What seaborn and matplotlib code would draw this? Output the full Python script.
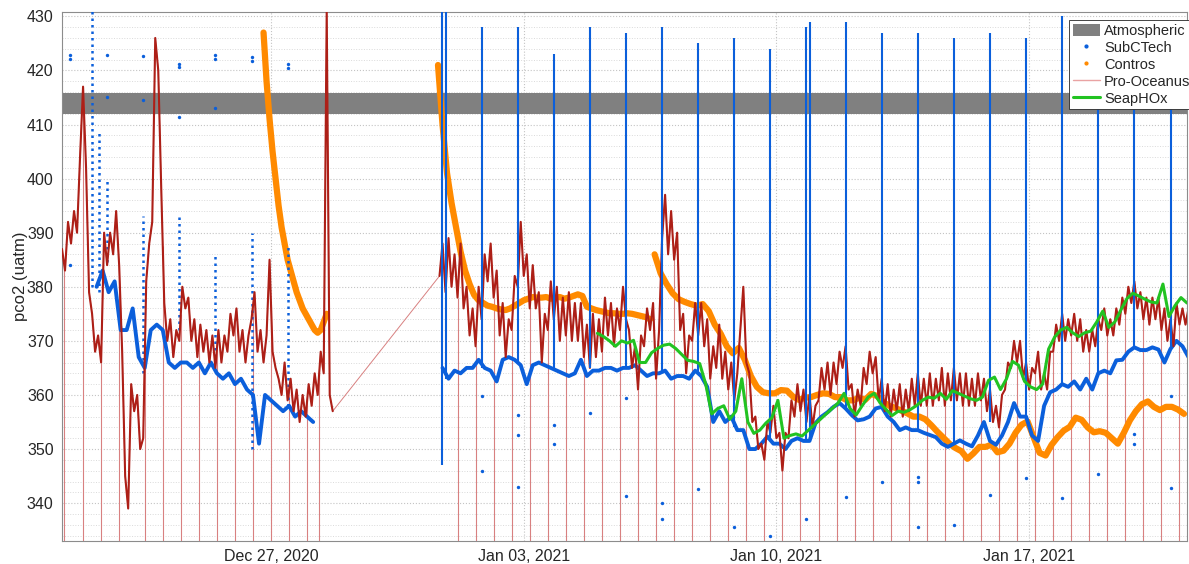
import numpy as np
import pandas as pd
import matplotlib
matplotlib.use("Agg")
import matplotlib.pyplot as plt
from matplotlib.ticker import MultipleLocator
from matplotlib.lines import Line2D
from matplotlib.patches import Patch
import seaborn as sns

# ---------------- data (time in hours after 2020-12-21 00:00) ----------------
base = pd.Timestamp("2020-12-21 00:00")

atm_band = [411.9, 415.9]

# Pro-Oceanus, 2 h readings before and after the data gap
pro_a_start, pro_a_step = 5, 2
pro_a = [387, 383, 392, 388, 394, 390, 404, 417, 402, 379,
         375, 368, 371, 366, 390, 384, 390, 386, 394, 384,
         368, 345, 339, 362, 357, 360, 350, 352, 381, 388,
         392, 426, 420, 398, 377, 370, 374, 367, 372, 370,
         380, 376, 378, 370, 374, 367, 373, 368, 372, 366,
         371, 365, 372, 366, 371, 368, 375, 371, 376, 368,
         372, 366, 371, 374, 379, 368, 372, 366, 371, 385,
         368, 365, 363, 360, 366, 359, 363, 357, 361, 355,
         360, 356, 362, 358, 364, 360, 368, 364, 431, 360,
         357]
pro_b_start, pro_b_step = 256, 2
pro_b = [382, 388, 379, 389, 380, 386, 378, 388, 376, 380, 371, 376,
         369, 380, 374, 386, 381, 388, 378, 383, 371, 377, 367, 374,
         372, 382, 380, 392, 382, 386, 376, 384, 376, 379, 366, 375,
         372, 381, 374, 380, 370, 378, 371, 379, 370, 377, 370, 377,
         367, 373, 365, 375, 367, 374, 368, 378, 371, 377, 369, 376,
         372, 380, 374, 372, 365, 369, 361, 371, 369, 376, 372, 377,
         363, 372, 389, 397, 386, 394, 385, 390, 372, 375, 364, 371,
         370, 377, 371, 377, 369, 374, 363, 369, 365, 373, 363, 368,
         361, 366, 359, 364, 372, 380, 366, 364, 355, 356, 350, 351,
         348, 355, 353, 358, 352, 353, 346, 353, 352, 359, 356, 362,
         357, 361, 355, 360, 354, 358, 359, 365, 361, 366, 360, 366,
         362, 368, 365, 369, 361, 362, 356, 361, 358, 365, 362, 368,
         364, 367, 359, 363, 357, 362, 356, 361, 357, 362, 356, 361,
         357, 363, 358, 364, 358, 363, 358, 364, 358, 363, 359, 365,
         358, 364, 359, 365, 359, 364, 358, 364, 358, 363, 358, 364,
         359, 363, 357, 361, 355, 358, 354, 360, 361, 366, 365, 370,
         366, 370, 363, 366, 361, 365, 364, 368, 361, 364, 361, 368,
         368, 373, 370, 375, 370, 374, 371, 375, 370, 374, 368, 372,
         368, 372, 369, 374, 372, 376, 371, 374, 371, 376, 373, 378,
         375, 380, 377, 381, 376, 379, 374, 378, 373, 378, 374, 378,
         372, 376, 370, 374, 369, 377, 373, 376, 373, 376]
# times where the Pro-Oceanus record drops out (zero readings)
pro_drops = [6.5, 19, 31, 43, 60, 72, 84, 96, 108, 120, 132, 144, 156, 168, 176,
             268, 280, 292, 304, 316, 328, 340, 352, 364, 376, 388, 400, 412,
             424, 436, 448, 460, 472, 484, 496, 508, 520, 532, 544, 556, 568,
             580, 592, 604, 616, 628, 640, 652, 664, 676, 688, 700, 712, 724,
             736, 748]

# SubCTech
sub_a_start, sub_a_step = 28, 4
sub_a = [380, 383, 379, 381, 372, 372, 376, 367, 365, 372,
         373, 372, 366, 365, 366, 366, 365, 366, 364, 366,
         364, 363, 364, 362, 363, 361, 360, 351, 360, 359,
         358, 357, 358, 356, 357, 356, 355]
sub_b_start, sub_b_step = 258, 4
sub_b = [365, 363, 364.5, 364, 365, 365, 366.5, 365, 364.5, 362.5,
         366.5, 367, 366.5, 365.5, 362, 365.5, 366, 365.5, 365, 364.5,
         364, 363.5, 364, 366.5, 363.5, 364.5, 364.5, 365, 365, 364.5,
         365, 365, 365.5, 364.5, 363.5, 364, 364, 364.5, 363, 363.5,
         363.5, 363, 364.5, 363.5, 361.5, 355, 357, 355, 356, 353.5,
         353.5, 350, 350, 351, 352.3, 351, 351, 350, 351.5, 352,
         351.5, 351.5, 354.8, 356, 356.8, 357.8, 358.5, 357.5, 356.3, 355.3,
         355.5, 356, 357.5, 357.8, 356, 355, 353.5, 354, 353.5, 353.5,
         353, 352.6, 352.2, 351, 350.4, 351, 351.6, 351, 350.5, 352.5,
         355, 351.5, 350.8, 352.5, 355, 358.5, 356, 356, 352.5, 351.5,
         358, 360.5, 361, 362, 361.5, 362.5, 361, 363, 361, 364,
         364.5, 364, 366.4, 366.5, 368, 368.8, 368.3, 368.3, 368.8, 368.4,
         366, 368.5, 370, 369, 367]
# daily calibration spikes after the gap
sub_spike_h = [257.7, 260.4, 284, 308, 332, 356, 380, 404, 428, 452, 476, 500,
               502.5, 526, 550, 574, 598, 622, 646, 670, 694, 718, 742.5]
sub_spike_lo = [347, 363, 365, 366, 365, 365, 365, 364, 364, 354, 352, 351.5,
                352, 357.5, 357.5, 353.5, 351, 355, 356, 362, 364, 368.5, 368.5]
sub_spike_hi = [431, 431, 428, 428, 423, 428, 427, 428, 425, 426, 424, 428,
                429, 429, 427, 427, 426, 427, 426, 430, 420, 418, 425]
# sparse calibration columns before the gap
sub_col_h = [25, 29.7, 35, 59, 83, 107, 131, 155]
sub_col_lo = [380, 379, 384.5, 364, 372, 366, 350, 358]
sub_col_hi = [431, 409, 400, 393, 393.6, 386, 390, 388]
# isolated readings
sub_dot_h = [10.4, 10.4, 10.4, 35, 35, 59, 59, 83, 83, 83, 107, 107, 107, 131, 131,
             155, 155, 284, 284, 308, 308, 308, 332, 332, 356, 380, 380, 404, 404,
             428, 452, 476, 500, 526, 550, 574, 574, 574, 598, 622, 646, 670, 694,
             718, 718, 742.5, 742.5]
sub_dot_v = [422.8, 422.2, 384, 422.8, 415, 422.6, 414.5, 421.2, 420.6, 411.3,
             422.8, 422.2, 413, 422.5, 421.8, 421.2, 420.5, 359.8, 346, 356.3,
             352.6, 343, 354.4, 351, 356.6, 359.4, 341.3, 340, 337, 342.6, 335.6,
             334, 337, 341.2, 343.9, 344.9, 343.9, 335.6, 336, 341.5, 344.6, 341,
             345.4, 352.8, 350.9, 342.8, 359.8]

# Contros
con_a_start, con_a_step = 139, 2
con_a = [427, 418, 411, 405, 400, 395, 391, 388, 385, 383, 381, 379, 377.5,
         376, 375, 374, 373, 372, 371.5, 372, 373.5, 375]
con_b_start, con_b_step = 255, 3
con_b = [421, 410, 401, 395.5, 391, 386.5, 383, 380.5, 378.5, 377.5,
         377, 376.5, 376.3, 376, 375.8, 375.7, 376, 376.5, 377, 377.5,
         377.8, 378.1, 378, 378, 378.1, 377.8, 378, 378.1, 377.8, 378,
         378.3, 378.6, 378.3, 376.3, 376, 375.7, 375.5, 375.3, 375.1, 375.1,
         375, 375, 375.1, 375, 374.8, 374.6, 374.4, 374]
con_c_start, con_c_step = 399, 4
con_c = [386, 382.5, 380.5, 378.8, 377.7, 377.2, 376.8, 376.5, 376.8, 375.5,
         373, 371.3, 369, 367.7, 368.7, 366.5, 363.5, 361.5, 360.5, 360.3,
         360.3, 360.9, 360.8, 359.7, 359.1, 359.5, 359.6, 360, 360.3, 360.2,
         359.6, 359.6, 359, 359, 359.5, 359.1, 360.2, 359.8, 358.7, 358,
         357.6, 357.1, 356.6, 356, 356, 355.5, 354.4, 353.2, 352.1, 351,
         350.2, 349.6, 348.2, 349.2, 350.4, 350.4, 350.8, 349.4, 349.7, 351,
         353, 354.5, 355.1, 352.2, 349.3, 348.8, 350.8, 352.2, 353.4, 354.1,
         355.8, 355.4, 354, 353.1, 353.3, 353, 352, 351, 353, 355.3,
         357, 358.3, 358.8, 357.8, 357.2, 357.8, 357.8, 357.3, 356.5]

# SeapHOx (two runs joined across a short outage)
sea_a_start, sea_a_step = 361, 4
sea_a = [371.4, 370.8, 370, 369, 370, 369.6, 370.1, 366, 366, 367.8,
         368.6, 369.2, 369.4, 368.6, 367.5, 366.4, 366.2, 365.8, 362, 356.5,
         357.5, 358, 355.5, 357, 363, 355, 352.9, 353.5, 354.8, 355.8,
         359, 352, 352.5, 352.8, 352.4]
sea_b_start, sea_b_step = 521, 4
sea_b = [358.5, 360.3, 357.5, 356.3, 358, 359.6, 360.3, 358.5, 357.3, 356.2,
         357, 356.8, 357.3, 358, 359, 359.6, 359.4, 360.3, 359.2, 360.8,
         360.3, 359.8, 359.3, 359, 359.6, 362.7, 363.3, 361, 363, 366.2,
         365.5, 362.5, 361.5, 361, 362, 368.5, 370.7, 372, 372.5, 371.5,
         370.8, 371.5, 371.8, 373.5, 375.5, 372.5, 373.5, 375.7, 377.8, 378.8,
         378.3, 377.7, 377.2, 377, 380.5, 374.5, 376.5, 378, 377]

tick_dates = ["2020-12-27", "2021-01-03", "2021-01-10", "2021-01-17"]
tick_labels = ["Dec 27, 2020", "Jan 03, 2021", "Jan 10, 2021", "Jan 17, 2021"]
x_range_h = [5, 753]

C_SUB = "#0b5fdb"
C_CON = "#ff8a00"
C_PRO = "#ad1f17"
C_PRO_THIN = "#d88080"
C_SEA = "#22c322"
C_ATM = "#808080"


def hours(start, step, vals):
    return start + step * np.arange(len(vals))


def stamp(h):
    return base + pd.to_timedelta(np.asarray(h, dtype=float), unit="h")


def draw(ax, h, v, **kw):
    sns.lineplot(x=stamp(h), y=np.asarray(v, dtype=float), ax=ax,
                 estimator=None, sort=False, legend=False, **kw)


sns.set_style("white")
plt.rcParams["font.family"] = ["Liberation Sans", "DejaVu Sans"]

fig = plt.figure(figsize=(11.89, 5.64), dpi=100)
ax = fig.add_axes([62 / 1189, 23 / 564, 1125 / 1189, 529 / 564])

ax.axhspan(atm_band[0], atm_band[1], color=C_ATM, lw=0, zorder=1)

# Pro-Oceanus thin trace (drop-outs and the gap bridge)
pro_h = np.concatenate([hours(pro_a_start, pro_a_step, pro_a),
                        hours(pro_b_start, pro_b_step, pro_b)])
pro_v = np.concatenate([pro_a, pro_b]).astype(float)
ax.vlines(stamp(pro_drops), 0, np.interp(pro_drops, pro_h, pro_v),
          color=C_PRO_THIN, lw=0.8, zorder=2)
draw(ax, pro_h, pro_v, color=C_PRO_THIN, lw=0.7, zorder=2.5)

# Contros
for st, sp, vals in [(con_a_start, con_a_step, con_a),
                     (con_b_start, con_b_step, con_b),
                     (con_c_start, con_c_step, con_c)]:
    draw(ax, hours(st, sp, vals), vals, color=C_CON, lw=4.5, zorder=3)

# SubCTech
for st, sp, vals in [(sub_a_start, sub_a_step, sub_a),
                     (sub_b_start, sub_b_step, sub_b)]:
    draw(ax, hours(st, sp, vals), vals, color=C_SUB, lw=2.8, zorder=4)
ax.vlines(stamp(sub_col_h), sub_col_lo, sub_col_hi, color=C_SUB, lw=1.8,
          linestyles=(0, (1, 1.6)), zorder=4)
sns.scatterplot(x=stamp(sub_dot_h), y=sub_dot_v, ax=ax, color=C_SUB, s=6,
                linewidth=0, zorder=4, legend=False)

# Pro-Oceanus main trace
for st, sp, vals in [(pro_a_start, pro_a_step, pro_a),
                     (pro_b_start, pro_b_step, pro_b)]:
    draw(ax, hours(st, sp, vals), vals, color=C_PRO, lw=1.5, zorder=5)

ax.vlines(stamp(sub_spike_h), sub_spike_lo, sub_spike_hi, color=C_SUB,
          lw=1.5, zorder=5.5)

# SeapHOx
sea_h = np.concatenate([hours(sea_a_start, sea_a_step, sea_a),
                        hours(sea_b_start, sea_b_step, sea_b)])
draw(ax, sea_h, np.concatenate([sea_a, sea_b]), color=C_SEA, lw=2.2, zorder=6)

# axes styling
ax.set_xlim(stamp(x_range_h[0]), stamp(x_range_h[1]))
ax.set_ylim(333, 430.8)
ax.set_xticks(pd.to_datetime(tick_dates))
ax.set_xticklabels(tick_labels)
ax.set_yticks(np.arange(340, 431, 10))
ax.yaxis.set_minor_locator(MultipleLocator(2))
ax.set_xlabel("")
ax.set_ylabel("pco2 (uatm)", fontsize=12, color="#262626")
ax.yaxis.set_label_coords(-0.030, 0.5)

ax.set_axisbelow(True)
ax.grid(which="major", ls=":", color="#c4c4c4", lw=0.8)
ax.grid(which="minor", axis="y", ls=":", color="#dadada", lw=0.7)
for s in ax.spines.values():
    s.set_color("#8c8c8c")
    s.set_linewidth(0.8)
ax.tick_params(which="major", direction="in", length=8, width=0.8,
               color="#8c8c8c", labelcolor="#262626", labelsize=11.5, pad=6)
ax.tick_params(which="minor", length=0)

handles = [
    Patch(facecolor=C_ATM, edgecolor="none", label="Atmospheric"),
    Line2D([], [], ls="none", marker=".", ms=4, color=C_SUB, label="SubCTech"),
    Line2D([], [], ls="none", marker=".", ms=4, color=C_CON, label="Contros"),
    Line2D([], [], color="#e9a3a3", lw=1.0, label="Pro-Oceanus"),
    Line2D([], [], color=C_SEA, lw=2.2, label="SeapHOx"),
]
leg = ax.legend(handles=handles, loc="upper right",
                bbox_to_anchor=(1194 / 1189, 544 / 564),
                bbox_transform=fig.transFigure,
                fontsize=10.5, frameon=True, fancybox=False, framealpha=1,
                edgecolor="#262626", borderpad=0.25, labelspacing=0.2,
                handlelength=1.9, handleheight=0.9, handletextpad=0.25,
                borderaxespad=0)
leg.get_frame().set_linewidth(0.6)
leg.set_zorder(10)

fig.savefig("out.png", dpi=100)
